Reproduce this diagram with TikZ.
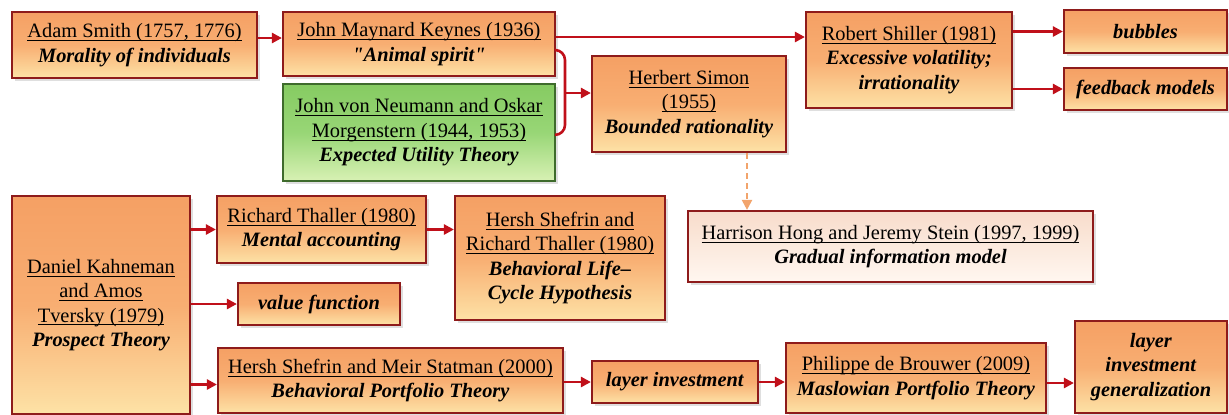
\documentclass[tikz,border=0pt]{standalone}
\usepackage{fontspec}
\setmainfont{Liberation Serif}
\usetikzlibrary{arrows.meta,shadows}

\definecolor{boxedge}{HTML}{8E1B1B}
\definecolor{arrowred}{HTML}{C0101A}
\definecolor{orangetop}{HTML}{F5A064}
\definecolor{orangemid}{HTML}{F8AE72}
\definecolor{orangebot}{HTML}{FDE2A6}
\definecolor{greentop}{HTML}{86CB62}
\definecolor{greenmid}{HTML}{98D676}
\definecolor{greenbot}{HTML}{D8F1B4}
\definecolor{greenedge}{HTML}{3E6B2C}
\definecolor{paletop}{HTML}{F8DCCB}
\definecolor{palebot}{HTML}{FFF7F0}
\definecolor{dashorange}{HTML}{F2A46C}

\newsavebox{\whobox}
\newcommand{\who}[1]{\sbox\whobox{#1}\rlap{\rule[-1.7pt]{\wd\whobox}{0.5pt}}\usebox\whobox}
\newcommand{\idea}[1]{\textbf{\textit{#1}}}

\tikzset{
  card/.style={draw=boxedge, line width=1.1pt, align=center, inner sep=2pt,
    drop shadow={shadow xshift=1.3pt, shadow yshift=-1.3pt, opacity=0.25}},
  orangecard/.style={card, top color=orangetop, bottom color=orangebot, middle color=orangemid},
  greencard/.style={card, draw=greenedge, top color=greentop, bottom color=greenbot, middle color=greenmid},
  palecard/.style={card, top color=paletop, bottom color=palebot},
  redarrow/.style={draw=arrowred, line width=1.3pt, -{Triangle[length=5pt,width=5pt]}},
  dasharrow/.style={draw=dashorange, line width=1.1pt, dash pattern=on 3pt off 2pt,
    -{Triangle[length=5pt,width=5pt]}}
}

\begin{document}
\begin{tikzpicture}[x=0.5pt,y=-0.5pt,font=\fontsize{10.2}{12.2}\selectfont]
\useasboundingbox (0,0) rectangle (1229,414);

% top row
\node[orangecard, minimum width=122.5pt, minimum height=33pt] (adam) at (134.5,45)
  {\who{Adam Smith (1757, 1776)}\\ \idea{Morality of individuals}};
\node[orangecard, minimum width=136pt, minimum height=32pt] (keynes) at (419,44)
  {\who{John Maynard Keynes (1936)}\\ \idea{\textquotedbl Animal spirit\textquotedbl}};
\node[greencard, minimum width=136pt, minimum height=48.5pt] (neumann) at (419,132.5)
  {\who{John von Neumann and Oskar}\\ \who{Morgenstern (1944, 1953)}\\ \idea{Expected Utility Theory}};
\node[orangecard, minimum width=97pt, minimum height=48pt] (simon) at (689,104)
  {\who{Herbert Simon}\\ \who{(1955)}\\ \idea{Bounded rationality}};
\node[orangecard, minimum width=103pt, minimum height=48pt] (shiller) at (909,60)
  {\who{Robert Shiller (1981)}\\ \idea{Excessive volatility;}\\ \idea{irrationality}};
\node[orangecard, minimum width=81.5pt, minimum height=21.5pt] (bubbles) at (1145.5,31.5)
  {\idea{bubbles}};
\node[orangecard, minimum width=81.5pt, minimum height=21pt] (feedback) at (1145.5,89)
  {\idea{feedback models}};

% lower rows
\node[orangecard, minimum width=89pt, minimum height=109pt] (kahneman) at (101,305)
  {\who{Daniel Kahneman}\\ \who{and Amos}\\ \who{Tversky (1979)}\\ \idea{Prospect Theory}};
\node[orangecard, minimum width=104.5pt, minimum height=33.5pt] (thaller) at (321.5,229.5)
  {\who{Richard Thaller (1980)}\\ \idea{Mental accounting}};
\node[orangecard, minimum width=81pt, minimum height=21pt] (value) at (319,304)
  {\idea{value function}};
\node[orangecard, minimum width=172.5pt, minimum height=32.5pt] (statman) at (390.5,380.5)
  {\who{Hersh Shefrin and Meir Statman (2000)}\\ \idea{Behavioral Portfolio Theory}};
\node[orangecard, minimum width=105pt, minimum height=62pt] (lifecycle) at (560,258)
  {\who{Hersh Shefrin and}\\ \who{Richard Thaller (1980)}\\ \idea{Behavioral Life--}\\ \idea{Cycle Hypothesis}};
\node[palecard, minimum width=202.5pt, minimum height=35.5pt] (hong) at (890.5,246.5)
  {\who{Harrison Hong and Jeremy Stein (1997, 1999)}\\ \idea{Gradual information model}};
\node[orangecard, minimum width=83pt, minimum height=21pt] (layer) at (675,382)
  {\idea{layer investment}};
\node[orangecard, minimum width=130pt, minimum height=35pt] (brouwer) at (916,378)
  {\who{Philippe de Brouwer (2009)}\\ \idea{Maslowian Portfolio Theory}};
\node[orangecard, minimum width=76pt, minimum height=46pt] (general) at (1151,367)
  {\idea{layer}\\ \idea{investment}\\ \idea{generalization}};

% connectors
\coordinate (join) at (565,93);
\draw[redarrow] ([yshift=3.5pt]adam.east) -- ([yshift=3.5pt]adam.east -| keynes.west);
\draw[redarrow] ([yshift=3.5pt]keynes.east) -- ([yshift=3.5pt]keynes.east -| shiller.west);
\draw[draw=arrowred, line width=1.3pt, rounded corners=5pt]
  ([yshift=-3pt]keynes.east) -| (join) |- ([yshift=-1.2pt]neumann.east);
\draw[redarrow] (join) -- (join -| simon.west);
\draw[redarrow] (shiller.east |- bubbles.west) -- (bubbles.west);
\draw[redarrow] (shiller.east |- feedback.west) -- (feedback.west);
\draw[dasharrow] ([xshift=29pt]simon.south) -- ([xshift=29pt]simon.south |- hong.north);
\draw[redarrow] (kahneman.east |- thaller.west) -- (thaller.west);
\draw[redarrow] (kahneman.east |- value.west) -- (value.west);
\draw[redarrow] ([yshift=-2pt]kahneman.east |- statman.west) -- ([yshift=-2pt]statman.west);
\draw[redarrow] (thaller.east) -- (thaller.east -| lifecycle.west);
\draw[redarrow] (statman.east |- layer.west) -- (layer.west);
\draw[redarrow] (layer.east) -- (layer.east -| brouwer.west);
\draw[redarrow] ([yshift=-2.5pt]brouwer.east) -- ([yshift=-2.5pt]brouwer.east -| general.west);
\end{tikzpicture}
\end{document}
